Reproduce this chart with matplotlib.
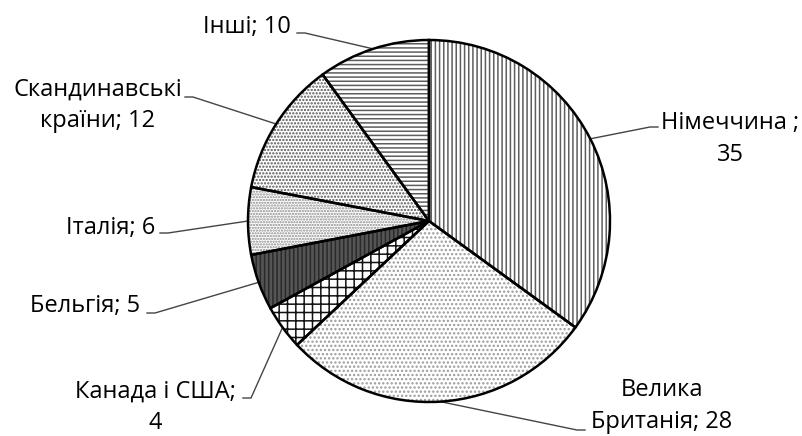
import numpy as np
import matplotlib
matplotlib.use("Agg")
import matplotlib.pyplot as plt

plt.rcParams['font.family'] = ['Open Sans', 'DejaVu Sans']
plt.rcParams['hatch.linewidth'] = 1.1

# data, clockwise from the top
countries = ["Німеччина ", "Велика\nБританія", "Канада і США", "Бельгія", "Італія",
             "Скандинавські\nкраїни", "Інші"]
shares = [35, 28, 4, 5, 6, 12, 10]
value_sep = ["\n", " ", "\n", " ", " ", " ", " "]

# look of every wedge
hatches = ["||||", "....", "++", "||||", "......", ".....", "----"]
hatch_colors = ["#5e5e5e", "#9a9a9a", "#111111", "#2a2a2a", "#8a8a8a", "#555555", "#5e5e5e"]
face_colors = ["white", "white", "white", "#555555", "white", "white", "white"]

# label layout in pixels (y down): text centre and start of the leader line
text_xy = [(730, 139), (662, 406), (155, 407), (85, 306), (111, 228), (98, 105), (247, 27)]
lead_xy = [(658, 127), (585, 430), (243, 398), (147, 313), (160, 233), (185, 97), (297, 33)]

W, H = 803, 436
cx, cy, R = 429, 221, 181

fig = plt.figure(figsize=(W / 100, H / 100), dpi=100)
ax = fig.add_axes([0, 0, 1, 1])

# hatched fill first (hatch takes the edge colour, so edges drawn again below)
wedges, _ = ax.pie(shares, startangle=-90, counterclock=True, center=(cx, cy), radius=R,
                   wedgeprops=dict(linewidth=0))
for w, h, hc, fc in zip(wedges, hatches, hatch_colors, face_colors):
    w.set_facecolor(fc)
    w.set_edgecolor(hc)
    w.set_hatch(h)

outline, _ = ax.pie(shares, startangle=-90, counterclock=True, center=(cx, cy), radius=R,
                    wedgeprops=dict(fill=False, edgecolor="black", linewidth=1.8))

ax.set_aspect("auto")
ax.set_xlim(0, W)
ax.set_ylim(H, 0)
ax.axis("off")

for w, name, val, sep, (tx, ty), (lx, ly) in zip(wedges, countries, shares, value_sep, text_xy, lead_xy):
    ang = np.deg2rad((w.theta1 + w.theta2) / 2)
    ex, ey = cx + R * np.cos(ang), cy + R * np.sin(ang)
    step = 8 if ex > lx else -8
    ax.plot([lx, lx + step, ex], [ly, ly, ey], color="#444444", linewidth=1.0, zorder=0)
    ax.text(tx, ty, f"{name};{sep}{val}", ha="center", va="center", fontsize=17,
            linespacing=1.4, color="black")

fig.savefig("out.png", dpi=100)
